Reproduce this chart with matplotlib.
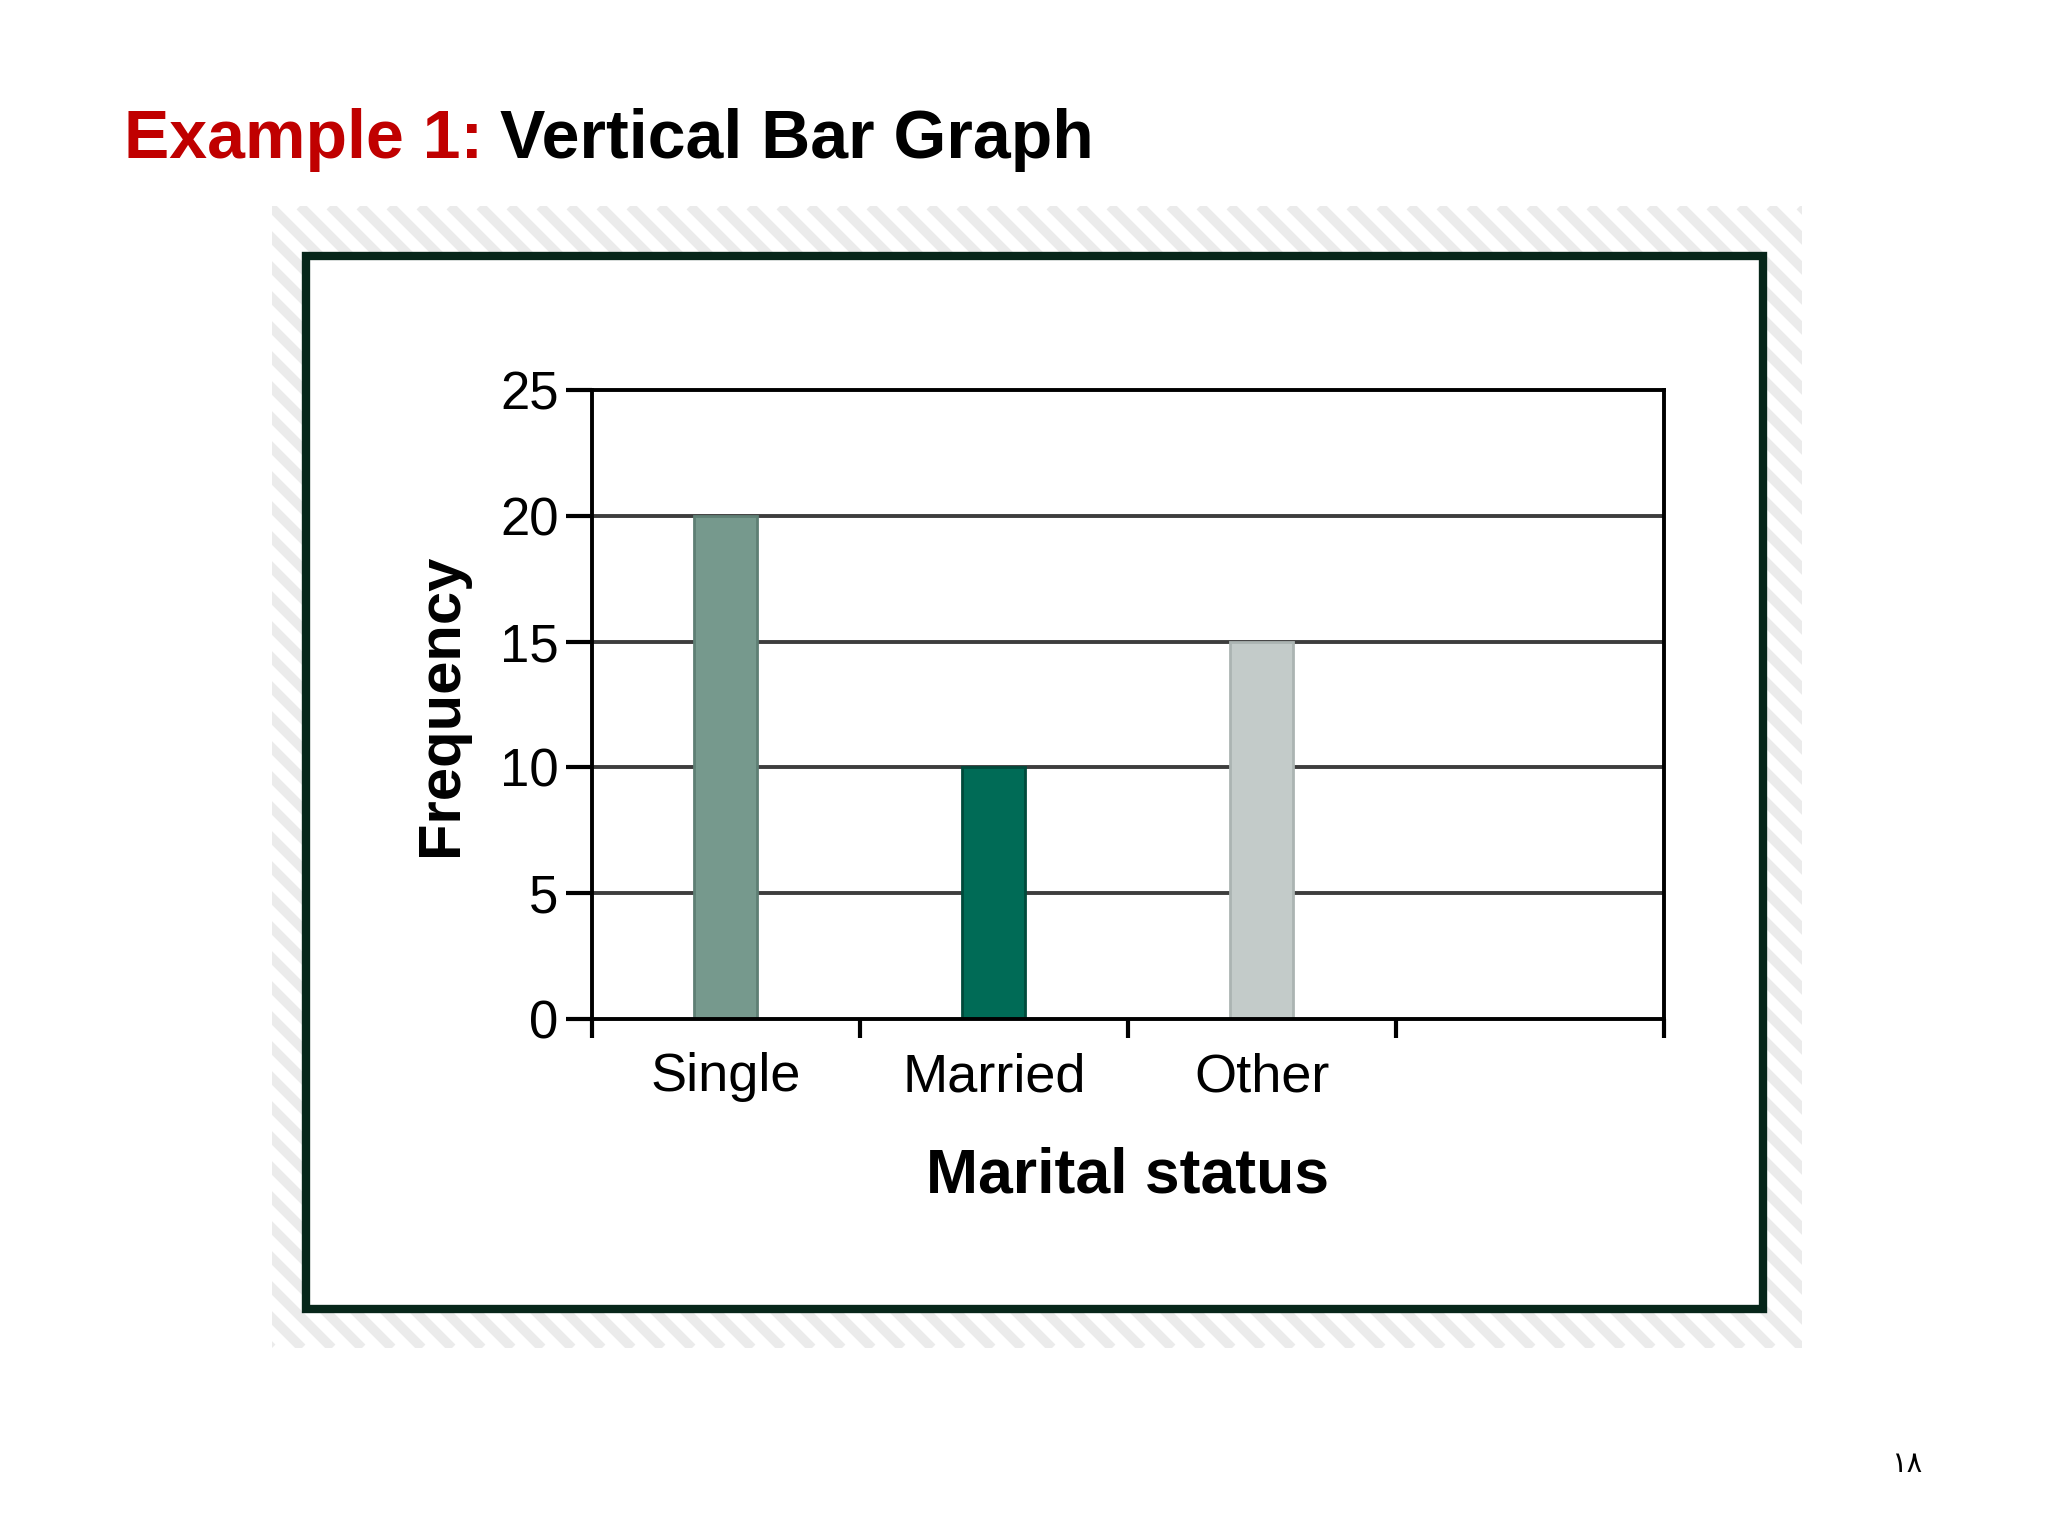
import matplotlib.pyplot as plt
from matplotlib.patches import Rectangle
import numpy as np

plt.rcParams['font.family'] = ['Liberation Sans', 'DejaVu Sans']

# Data
categories = ['Single', 'Married', 'Other']
frequency = [20, 10, 15]
bar_colors = ['#76998d', '#006b56', '#c3cbc9']
edge_colors = ['#5e7f74', '#004a3b', '#abb4b2']
y_ticks = [0, 5, 10, 15, 20, 25]
n_slots = 4  # the axis has room for 4 categories, last one empty

fig = plt.figure(figsize=(20.48, 15.36), dpi=100)

# background layer in pixel coordinates (frame, hatched band)
bg = fig.add_axes([0, 0, 1, 1])
bg.set_xlim(0, 2048)
bg.set_ylim(1536, 0)
bg.axis('off')

outer = Rectangle((272, 206), 1530, 1142, facecolor='white', edgecolor='none')
bg.add_patch(outer)
span = 1142
for c in np.arange(272 - span, 1802, 30):
    ln, = bg.plot([c, c + span], [206, 206 + span], color='#ebebeb', lw=7,
                  solid_capstyle='butt', zorder=1)
    ln.set_clip_path(outer)
bg.add_patch(Rectangle((306, 256), 1457, 1053, facecolor='white',
                       edgecolor='#07261a', lw=6, zorder=3))

# title, two colours
r = fig.canvas.get_renderer()
t1 = fig.text(0.0606, 0.897, 'Example 1:', color='#c00000', fontsize=49,
              fontweight='bold', va='baseline')
bb = t1.get_window_extent(r)
fig.text(bb.x1 / 2048 + 0.008, 0.897, 'Vertical Bar Graph', color='black',
         fontsize=49, fontweight='bold', va='baseline')

# page number
fig.text(0.931, 0.047, '\u0661\u0668', fontsize=21, family=['DejaVu Sans'],
         ha='center', va='center')

# chart
ax = fig.add_axes([0.289, 0.3366, 0.5234, 0.4095])
x = np.arange(len(categories))
ax.bar(x, frequency, width=0.235, color=bar_colors, edgecolor=edge_colors,
       linewidth=2, zorder=3)

ax.set_xlim(-0.5, n_slots - 0.5)
ax.set_ylim(0, 25)
ax.set_yticks(y_ticks)
ax.set_yticklabels([str(v) for v in y_ticks], fontsize=38)
ax.set_xticks(np.arange(n_slots + 1) - 0.5)
ax.set_xticklabels([])
ax.set_xticks(x, minor=True)
ax.set_xticklabels(categories, minor=True, fontsize=39)
ax.tick_params(axis='x', which='minor', length=0, pad=24)
ax.tick_params(axis='x', which='major', direction='out', length=14, width=3)
ax.tick_params(axis='y', direction='out', length=19, width=3, pad=5)

for s in ax.spines.values():
    s.set_linewidth(2.8)
    s.set_color('black')
    s.set_zorder(4)

for v in y_ticks[1:-1]:
    ax.axhline(v, color='#3d3d3d', lw=2.8, zorder=1)

ax.set_ylabel('Frequency', fontsize=43, fontweight='bold', labelpad=22)
ax.set_xlabel('Marital status', fontsize=45, fontweight='bold', va='top')
ax.xaxis.set_label_coords(0.5, -0.203)

plt.savefig('out.png')
